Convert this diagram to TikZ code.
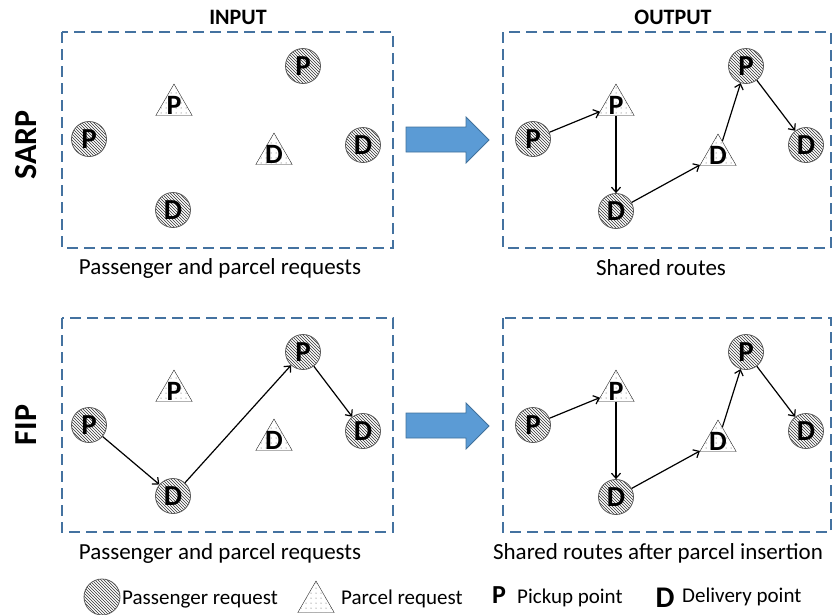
\documentclass[tikz,border=0pt]{standalone}
\usepackage{fontspec}
\setmainfont{Carlito}
\usetikzlibrary{shapes.geometric,patterns,arrows.meta}
\pgfdeclarepatternformonly{sparse dots}{\pgfqpoint{-1pt}{-1pt}}{\pgfqpoint{6pt}{6pt}}{\pgfqpoint{5pt}{5pt}}{\pgfpathcircle{\pgfqpoint{1pt}{1pt}}{0.5pt}\pgfusepath{fill}}
\pgfdeclarepatternformonly{hatch}{\pgfqpoint{-1pt}{-1pt}}{\pgfqpoint{4pt}{4pt}}{\pgfqpoint{3pt}{3pt}}{\pgfsetlinewidth{0.6pt}\pgfpathmoveto{\pgfqpoint{0pt}{3pt}}\pgfpathlineto{\pgfqpoint{3.1pt}{-0.1pt}}\pgfusepath{stroke}}
\definecolor{boxblue}{RGB}{68,114,160}
\definecolor{arrowfill}{RGB}{91,155,213}
\definecolor{arrowline}{RGB}{65,113,156}
\begin{document}
\begin{tikzpicture}[x=1pt,y=-1pt,
  pas/.style={circle, draw=black!65, line width=0.8pt, pattern=hatch, pattern color=black!80, minimum size=35pt, inner sep=0pt, font=\bfseries\fontsize{29}{29}\selectfont},
  par/.style={regular polygon, regular polygon sides=3, draw=black!85, pattern=sparse dots, pattern color=black!70, minimum size=42pt, inner sep=0pt, label={[font=\bfseries\fontsize{28}{28}\selectfont, inner sep=0pt]center:#1}},
  route/.style={line width=1.2pt, -{Straight Barb[length=5pt,width=9pt]}},
  frame/.style={boxblue, line width=2pt, dash pattern=on 11pt off 6pt},
  bigarrow/.style={fill=arrowfill, draw=arrowline, line width=0.8pt},
  head/.style={font=\bfseries\fontsize{22}{22}\selectfont},
  side/.style={font=\bfseries\fontsize{32}{32}\selectfont, rotate=90},
  caption/.style={font=\fontsize{23}{23}\selectfont},
  legend/.style={font=\fontsize{21}{21}\selectfont, anchor=base west, inner sep=0pt},
  letter/.style={font=\bfseries\fontsize{26}{26}\selectfont, inner sep=0pt}]
  \useasboundingbox (0,0) rectangle (834,614);

  \node[head] (input) at (238,17) {INPUT};
  \node[head] (output) at (673,17) {OUTPUT};
  \node[side] (sarp) at (26,145) {SARP};
  \node[side] (fip) at (26,425) {FIP};

  \draw[frame] (62,32) rectangle (393,248);
  \draw[frame] (503,32) rectangle (831,248);
  \draw[frame] (62,318) rectangle (393,532);
  \draw[frame] (503,318) rectangle (831,532);

  \draw[bigarrow] (406,127) -- (466,127) -- (466,117) -- (489,140) -- (466,163) -- (466,152) -- (406,152) -- cycle;
  \draw[bigarrow] (406,413) -- (466,413) -- (466,403) -- (489,426) -- (466,449) -- (466,438) -- (406,438) -- cycle;

  \node[pas] (sp1) at (89,139) {P};
  \node[par=P] (stp) at (174,105) {};
  \node[pas] (sd1) at (173,210) {D};
  \node[par=D] (std) at (274,154) {};
  \node[pas] (sp2) at (303,66) {P};
  \node[pas] (sd2) at (363,145) {D};

  \node[pas] (op1) at (533,139) {P};
  \node[par=P] (otp) at (616,105) {};
  \node[pas] (od1) at (616,211) {D};
  \node[par=D] (otd) at (718,155) {};
  \node[pas] (op2) at (746,66) {P};
  \node[pas] (od2) at (806,145) {D};
  \draw[route] (op1) -- (otp);
  \draw[route] (otp) -- (od1);
  \draw[route] (od1) -- (otd);
  \draw[route] (otd) -- (op2);
  \draw[route] (op2) -- (od2);

  \node[pas] (fp1) at (89,425) {P};
  \node[par=P] (ftp) at (174,391) {};
  \node[pas] (fd1) at (173,496) {D};
  \node[par=D] (ftd) at (274,440) {};
  \node[pas] (fp2) at (303,352) {P};
  \node[pas] (fd2) at (363,431) {D};
  \draw[route] (fp1) -- (fd1);
  \draw[route] (fd1) -- (fp2);
  \draw[route] (fp2) -- (fd2);

  \node[pas] (gp1) at (533,425) {P};
  \node[par=P] (gtp) at (616,391) {};
  \node[pas] (gd1) at (616,497) {D};
  \node[par=D] (gtd) at (718,441) {};
  \node[pas] (gp2) at (746,352) {P};
  \node[pas] (gd2) at (806,431) {D};
  \draw[route] (gp1) -- (gtp);
  \draw[route] (gtp) -- (gd1);
  \draw[route] (gd1) -- (gtd);
  \draw[route] (gtd) -- (gp2);
  \draw[route] (gp2) -- (gd2);

  \node[caption] (cap1) at (220,268) {Passenger and parcel requests};
  \node[caption] (cap2) at (661,268) {Shared routes};
  \node[caption] (cap3) at (220,553) {Passenger and parcel requests};
  \node[caption] (cap4) at (658,553) {Shared routes after parcel insertion};

  \node[pas, minimum size=36pt] (lpas) at (102,597) {};
  \node[legend] (tpas) at (122,604) {Passenger request};
  \node[par=, minimum size=42pt] (lpar) at (316,602) {};
  \node[legend] (tpar) at (341,604) {Parcel request};
  \node[letter] (lp) at (499,595) {P};
  \node[legend] (tp) at (517,603) {Pickup point};
  \node[letter, font=\bfseries\fontsize{30}{30}\selectfont] (ld) at (665,598) {D};
  \node[legend] (td) at (682,602) {Delivery point};
\end{tikzpicture}
\end{document}
